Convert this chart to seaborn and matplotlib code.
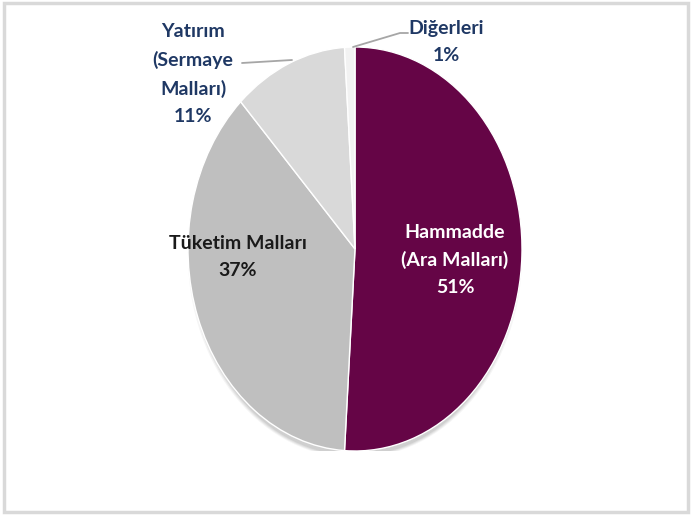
import matplotlib
matplotlib.use("Agg")
import matplotlib.pyplot as plt
import seaborn as sns
from matplotlib.patches import Rectangle, Ellipse

# ---------------- Data ----------------
categories = ["Hammadde\n(Ara Malları)", "Tüketim Malları", "Yatırım\n(Sermaye\nMalları)", "Diğerleri"]
shares = [51, 37, 11, 1]

sns.set_theme(style="white")
plt.rcParams["font.family"] = ["Lato", "DejaVu Sans"]

slice_colors = ["#650546", "#bfbfbf", "#d9d9d9", "#f2f2f2"]

W, H = 692, 516
fig = plt.figure(figsize=(W / 100, H / 100), dpi=100)
fig.patch.set_facecolor("white")

# pie is an ellipse: box 188..522 px wide, 47..451 px tall
cx, cy, rx, ry = 355, 249, 167, 202
ax = fig.add_axes([(cx - rx) / W, (H - cy - ry) / H, 2 * rx / W, 2 * ry / H])

def px(x, y):
    return (x - cx) / rx, (cy - y) / ry

# soft shadow below the pie
for i, a in enumerate([0.04, 0.05, 0.05, 0.06]):
    ax.add_patch(Ellipse((0, -0.035 - i * 0.006), 2.0 - i * 0.02, 2.0 - i * 0.02,
                         color="black", alpha=a, lw=0, zorder=0))

wedges, _ = ax.pie(shares, colors=slice_colors, startangle=90, counterclock=False,
                   wedgeprops=dict(edgecolor="white", linewidth=1.0))
for w in wedges:
    w.set_zorder(2)
ax.set_aspect("auto")
ax.set_xlim(-1, 1)
ax.set_ylim(-1, 1)
ax.axis("off")

navy = "#1f3864"
fs = 14
label_pos = [(455, 260, "white"), (238, 257, "#1a1a1a"), (193, 74, navy), (446, 42, navy)]
for cat, val, (lx, ly, col) in zip(categories, shares, label_pos):
    x, y = px(lx, ly)
    ax.text(x, y, f"{cat}\n{val}%", ha="center", va="center", color=col,
            fontsize=fs, fontweight="bold", linespacing=1.7, clip_on=False, zorder=5)

# leader lines
line_col = "#a6a6a6"
xs, ys = zip(*[px(242, 63), px(292, 60)])
ax.plot(xs, ys, color=line_col, lw=1.3, clip_on=False, zorder=4)
xs, ys = zip(*[px(353, 47), px(400, 33), px(408, 33)])
ax.plot(xs, ys, color=line_col, lw=1.3, clip_on=False, zorder=4)

# outer frame
fig.patches.append(Rectangle((4 / W, 4 / H), (W - 8) / W, (H - 7) / H, transform=fig.transFigure,
                             fill=False, edgecolor="#d9d9d9", linewidth=2.5))

fig.savefig("out.png", dpi=100)
